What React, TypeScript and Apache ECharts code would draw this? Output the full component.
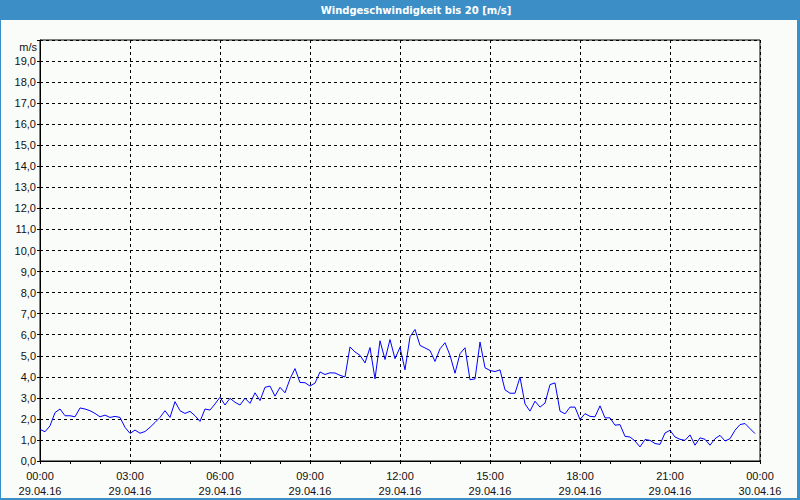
import React, { useEffect, useRef } from "react";
import * as echarts from "echarts";

const chartTitle = "Windgeschwindigkeit bis 20 [m/s]";
const unitLabel = "m/s";
const stepMinutes = 10;
const dayLabels = ["29.04.16", "30.04.16"];
// wind speed [m/s], one value every 10 minutes starting 29.04.16 00:00
const windSpeed = [
  1.5, 1.39, 1.67, 2.3, 2.47, 2.15, 2.15, 2.1, 2.52, 2.47, 2.39, 2.26,
  2.1, 2.18, 2.07, 2.12, 2.07, 1.6, 1.31, 1.47, 1.32, 1.4, 1.6, 1.83,
  2.07, 2.39, 2.07, 2.82, 2.39, 2.26, 2.36, 2.15, 1.88, 2.47, 2.42, 2.71,
  3.03, 2.66, 2.98, 2.79, 2.66, 2.98, 2.74, 3.24, 2.87, 3.5, 3.56, 3.08,
  3.5, 3.24, 3.9, 4.39, 3.73, 3.72, 3.56, 3.7, 4.23, 4.11, 4.19, 4.18,
  4.07, 3.99, 5.42, 5.18, 5.02, 4.66, 5.39, 3.9, 5.71, 4.82, 5.77, 4.86,
  5.4, 4.33, 5.9, 6.25, 5.49, 5.37, 5.25, 4.73, 5.33, 5.62, 5.02, 4.17,
  5.1, 5.38, 3.86, 3.9, 5.65, 4.43, 4.3, 4.25, 4.33, 3.38, 3.22, 3.22,
  3.98, 2.71, 2.37, 2.84, 2.56, 2.75, 3.63, 3.71, 2.37, 2.24, 2.56, 2.56,
  1.97, 2.25, 2.12, 2.1, 2.62, 2.05, 2.05, 1.7, 1.73, 1.17, 1.14, 0.95,
  0.67, 1.02, 0.98, 0.83, 0.79, 1.33, 1.46, 1.14, 1.03, 0.98, 1.24, 0.75,
  1.1, 1.03, 0.75, 1.06, 1.22, 0.95, 1.06, 1.46, 1.73, 1.78, 1.54, 1.3,
];

const FONT = "'Liberation Sans', Arial, sans-serif";
const TITLE_FONT = "'DejaVu Sans', Verdana, sans-serif";

export default function App() {
  const ref = useRef<HTMLDivElement>(null);
  useEffect(() => {
    if (!ref.current) return;
    const chart = echarts.init(ref.current, null, { renderer: "svg" });
    const data = windSpeed.map((v, i) => [(i * stepMinutes) / 60, v]);
    const pad = (n: number) => (n < 10 ? "0" + n : "" + n);
    chart.setOption({
      animation: false,
      backgroundColor: "#fafcfa",
      grid: {
        left: 40,
        top: 40,
        right: 40,
        bottom: 39,
        show: true,
        borderColor: "#000",
        borderWidth: 1,
        backgroundColor: "transparent",
      },
      xAxis: {
        type: "value",
        min: 0,
        max: 24,
        interval: 3,
        axisLine: { show: true, lineStyle: { color: "#000", width: 1 } },
        axisTick: { show: true, length: 3, lineStyle: { color: "#000" } },
        minorTick: { show: true, splitNumber: 3, length: 3, lineStyle: { color: "#000" } },
        splitLine: { show: true, lineStyle: { color: "#000", type: [3, 3], width: 1 } },
        axisLabel: {
          margin: 7,
          color: "#111",
          fontSize: 11,
          fontFamily: FONT,
          lineHeight: 15,
          formatter: (v: number) =>
            v >= 24 ? "00:00\n" + dayLabels[1] : pad(v) + ":00\n" + dayLabels[0],
        },
      },
      yAxis: {
        type: "value",
        min: 0,
        max: 20,
        interval: 1,
        axisLine: { show: true, lineStyle: { color: "#000", width: 1 } },
        axisTick: { show: true, length: 3, lineStyle: { color: "#000" } },
        splitLine: { show: true, lineStyle: { color: "#000", type: [3, 3], width: 1 } },
        axisLabel: {
          margin: 4,
          color: "#111",
          fontSize: 11,
          fontFamily: FONT,
          formatter: (v: number) => (v >= 20 ? "" : v.toFixed(1).replace(".", ",")),
        },
      },
      graphic: [
        { type: "rect", shape: { x: 0, y: 0, width: 800, height: 20 }, style: { fill: "#3b8fc6" }, silent: true },
        { type: "rect", shape: { x: 0, y: 0, width: 1, height: 500 }, style: { fill: "#3b8fc6" }, silent: true },
        { type: "rect", shape: { x: 797, y: 0, width: 3, height: 500 }, style: { fill: "#3b8fc6" }, silent: true },
        { type: "rect", shape: { x: 0, y: 498, width: 800, height: 2 }, style: { fill: "#3b8fc6" }, silent: true },
        {
          type: "text",
          x: 416,
          y: 10,
          style: {
            text: chartTitle,
            fill: "#fff",
            font: "bold 10px " + TITLE_FONT,
            align: "center",
            verticalAlign: "middle",
          },
          silent: true,
        },
        {
          type: "text",
          x: 37,
          y: 47,
          style: {
            text: unitLabel,
            fill: "#111",
            font: "11px " + FONT,
            align: "right",
            verticalAlign: "middle",
          },
          silent: true,
        },
      ],
      series: [
        {
          type: "line",
          data,
          showSymbol: false,
          symbol: "none",
          lineStyle: { color: "#0000ff", width: 1 },
          itemStyle: { color: "#0000ff" },
        },
      ],
    });
    return () => chart.dispose();
  }, []);
  return (
    <div
      ref={ref}
      style={{ position: "absolute", left: 0, top: 0, width: 800, height: 500 }}
    />
  );
}
